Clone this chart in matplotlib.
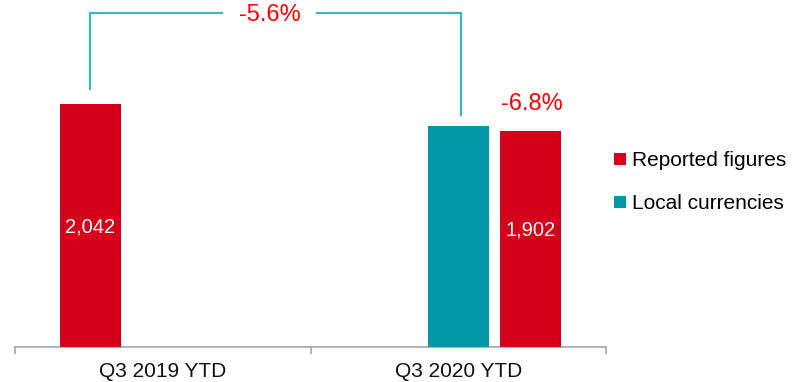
import matplotlib
matplotlib.use("Agg")
import matplotlib.pyplot as plt
from matplotlib.patches import Patch

plt.rcParams["font.family"] = ["Liberation Sans", "DejaVu Sans"]

# Data
categories = ["Q3 2019 YTD", "Q3 2020 YTD"]
reported = [2042, 1902]          # Reported figures
local_currencies = [None, 1928]  # Local currencies (2020 only)
change_lc = "-5.6%"
change_reported = "-6.8%"

RED = "#D50019"
TEAL = "#0098A8"
LINE_TEAL = "#3DB4C2"
AXIS_GREY = "#A6A6A6"

W, H = 800, 382
fig = plt.figure(figsize=(W / 100, H / 100), dpi=100)
ax = fig.add_axes([15 / W, (H - 347) / H, 591 / W, 347 / H])

ymin = 800
px_per_unit = 0.1957
ax.set_ylim(ymin, ymin + 347 / px_per_unit)
ax.set_xlim(-0.5, 1.5)

bar_w = 0.206
off = 0.245

# Reported bars: 2019 sits left of centre, 2020 right of centre
rep_x = [0 - off, 1 + off]
ax.bar(rep_x, [v - ymin for v in reported], bottom=ymin, width=bar_w, color=RED, zorder=3)
lc_x = [i for i, v in enumerate(local_currencies) if v is not None]
lc_v = [v for v in local_currencies if v is not None]
ax.bar(lc_x, [v - ymin for v in lc_v], bottom=ymin, width=bar_w, color=TEAL, zorder=3)

# Value labels inside the reported bars
label_y = [1413, 1398]
for x, v, ly in zip(rep_x, reported, label_y):
    ax.text(x, ly, f"{v:,}", ha="center", va="center", color="white", fontsize=14.5)

# Bracket connecting 2019 reported to 2020 local currencies
top = max(reported) + 467
x_left, x_right = rep_x[0], lc_x[0] + 0.009
ax.plot([x_left, x_left, x_right, x_right],
        [reported[0] + 76, top, top, lc_v[0] + 57],
        color=LINE_TEAL, lw=1.6, solid_joinstyle="miter", zorder=2, clip_on=False)
ax.text(0.362, top - 12, change_lc, ha="center", va="center", color="#FF0000", fontsize=17,
        bbox=dict(boxstyle="square,pad=0.65", facecolor="white", edgecolor="none"), zorder=4)

# Change label above 2020 reported bar
ax.annotate(change_reported, xy=(rep_x[1], reported[1]), xytext=(1, 12),
            textcoords="offset points", ha="center", va="bottom",
            color="#FF0000", fontsize=17)

# Axes styling
for s in ["top", "right", "left"]:
    ax.spines[s].set_visible(False)
ax.spines["bottom"].set_color(AXIS_GREY)
ax.spines["bottom"].set_linewidth(1.2)
ax.set_yticks([])
ax.set_xticks([0, 1])
ax.set_xticklabels(categories, fontsize=15, color="#111111")
ax.tick_params(axis="x", which="major", length=0, pad=11)
ax.set_xticks([-0.5, 0.5, 1.5], minor=True)
ax.tick_params(axis="x", which="minor", length=5, width=1.2, color=AXIS_GREY, direction="out")

handles = [Patch(facecolor=RED, edgecolor="none"), Patch(facecolor=TEAL, edgecolor="none")]
fig.legend(handles, ["Reported figures", "Local currencies"], loc="upper left",
           bbox_to_anchor=(606 / W, (H - 143) / H), frameon=False, fontsize=15,
           handlelength=0.55, handleheight=0.55, handletextpad=0.3, labelspacing=1.15,
           borderaxespad=0)

fig.savefig("out.png", dpi=100, facecolor="white")
